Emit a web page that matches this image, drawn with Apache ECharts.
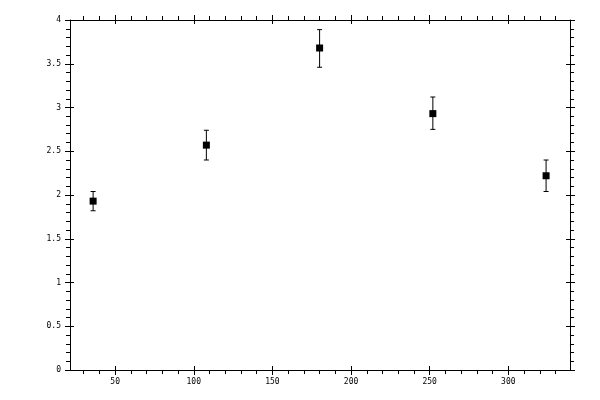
<!DOCTYPE html>
<html>
<head>
<meta charset="utf-8">
<script src="https://cdn.jsdelivr.net/npm/echarts@6/dist/echarts.min.js"></script>
<style>html,body{margin:0;padding:0;background:#fff;}#c{width:600px;height:400px;}</style>
</head>
<body>
<div id="c"></div>
<script>
// Data
var xValues = [36, 108, 180, 252, 324];
var yValues = [1.93, 2.57, 3.68, 2.93, 2.22];
var yLow = [1.82, 2.40, 3.46, 2.75, 2.04];
var yHigh = [2.04, 2.74, 3.89, 3.12, 2.40];
var xMajorTicks = [50, 100, 150, 200, 250, 300];
var xMinorTicks = [30, 40, 60, 70, 80, 90, 110, 120, 130, 140, 160, 170, 180, 190, 210, 220, 230, 240, 260, 270, 280, 290, 310, 320, 330];
var yMajorTicks = [0, 0.5, 1, 1.5, 2, 2.5, 3, 3.5, 4];
var yMinorTicks = [];
(function(){ for (var i = 0; i <= 40; i++) { if (i % 5 !== 0) yMinorTicks.push(i / 10); } })();
var X_MIN = 21.3, X_MAX = 339.2, Y_MIN = 0, Y_MAX = 4;

var FONT = 'DejaVu Sans Mono';
var lineStyle = {color: '#000', width: 1};

function makeAxes(kind, pos1, pos2, min, max, majors, minors, labelMargin) {
  var axes = [];
  [pos1, pos2].forEach(function (pos, idx) {
    axes.push({
      type: 'value', position: pos, min: min, max: max,
      axisLine: {show: true, onZero: false, lineStyle: lineStyle},
      axisTick: {show: true, inside: false, length: 5, customValues: majors, lineStyle: lineStyle},
      axisLabel: {show: idx === 0, customValues: majors, margin: labelMargin, color: '#000', fontFamily: FONT, fontSize: 8},
      splitLine: {show: false}
    });
    axes.push({
      type: 'value', position: pos, min: min, max: max,
      axisLine: {show: false, onZero: false},
      axisTick: {show: true, inside: true, length: 4, customValues: majors, lineStyle: lineStyle},
      axisLabel: {show: false},
      splitLine: {show: false}
    });
    axes.push({
      type: 'value', position: pos, min: min, max: max,
      axisLine: {show: false, onZero: false},
      axisTick: {show: true, inside: false, length: 4, customValues: minors, lineStyle: lineStyle},
      axisLabel: {show: false},
      splitLine: {show: false}
    });
  });
  return axes;
}

var points = xValues.map(function (x, i) { return [x, yValues[i]]; });
var bars = xValues.map(function (x, i) { return [x, yLow[i], yHigh[i]]; });

var chart = echarts.init(document.getElementById('c'), null, {renderer: 'canvas'});
chart.setOption({
  animation: false,
  backgroundColor: '#fff',
  grid: {left: 70, right: 30, top: 20, bottom: 30, containLabel: false},
  xAxis: makeAxes('x', 'bottom', 'top', X_MIN, X_MAX, xMajorTicks, xMinorTicks, 8),
  yAxis: makeAxes('y', 'left', 'right', Y_MIN, Y_MAX, yMajorTicks, yMinorTicks, 9),
  series: [
    {
      type: 'custom',
      xAxisIndex: 0, yAxisIndex: 0,
      data: bars,
      encode: {x: 0, y: [1, 2]},
      renderItem: function (params, api) {
        var x = api.value(0);
        var lo = api.coord([x, api.value(1)]);
        var hi = api.coord([x, api.value(2)]);
        var hw = 2.5;
        var st = {stroke: '#000', lineWidth: 1};
        return {
          type: 'group',
          children: [
            {type: 'line', shape: {x1: lo[0], y1: lo[1], x2: hi[0], y2: hi[1]}, style: st},
            {type: 'line', shape: {x1: hi[0] - hw, y1: hi[1], x2: hi[0] + hw, y2: hi[1]}, style: st},
            {type: 'line', shape: {x1: lo[0] - hw, y1: lo[1], x2: lo[0] + hw, y2: lo[1]}, style: st}
          ]
        };
      },
      z: 2
    },
    {
      type: 'scatter',
      xAxisIndex: 0, yAxisIndex: 0,
      data: points,
      symbol: 'rect',
      symbolSize: 7,
      itemStyle: {color: '#000', opacity: 1},
      z: 3
    }
  ]
});
</script>
</body>
</html>
